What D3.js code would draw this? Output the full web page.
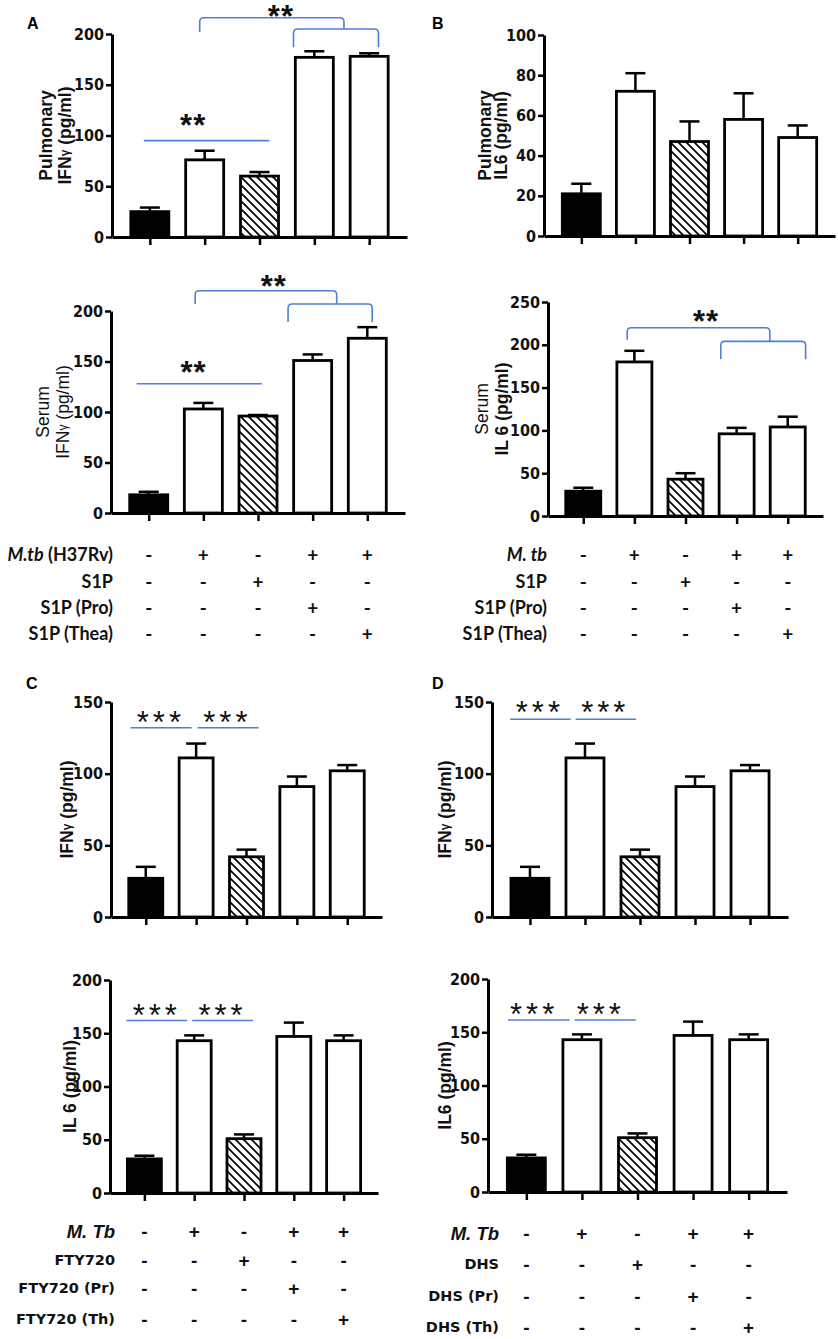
<!DOCTYPE html>
<html>
<head>
<meta charset="utf-8">
<script src="https://cdn.jsdelivr.net/npm/d3@7"></script>
<style>
  body { margin: 0; background: #fff; }
  svg { display: block; }
</style>
</head>
<body>
<script>
// groups: control, infected, drug alone, infected + drug (prophylactic), infected + drug (therapeutic)
var groups = ['ctrl', 'mtb', 'drug', 'pro', 'thea'];
var fills = ['solid', 'open', 'hatch', 'open', 'open'];

// A - S1P
var pulmIfng = [25, 76, 60, 177, 178];
var pulmIfngSem = [4, 9, 4, 6, 3];
var serumIfng = [18, 103, 96, 151, 173];
var serumIfngSem = [3, 6, 1, 6, 11];
// B - S1P
var pulmIl6 = [21, 72, 47, 58, 49];
var pulmIl6Sem = [5, 9, 10, 13, 6];
var serumIl6 = [29, 180, 43, 96, 104];
var serumIl6Sem = [4, 13, 7, 7, 12];
// C - FTY720
var ftyIfng = [27, 111, 42, 91, 102];
var ftyIfngSem = [8, 10, 5, 7, 4];
var ftyIl6 = [32, 143, 51, 147, 143];
var ftyIl6Sem = [3, 5, 4, 13, 5];
// D - DHS
var dhsIfng = [27, 111, 42, 91, 102];
var dhsIfngSem = [8, 10, 5, 7, 4];
var dhsIl6 = [32, 143, 51, 147, 143];
var dhsIl6Sem = [3, 5, 4, 13, 5];

var ticks200 = [0, 50, 100, 150, 200];
var ticks100 = [0, 20, 40, 60, 80, 100];
var ticks250 = [0, 50, 100, 150, 200, 250];
var ticks150 = [0, 50, 100, 150];

// treatment table under each panel
var signs = [
  ['-', '+', '-', '+', '+'],
  ['-', '-', '+', '-', '-'],
  ['-', '-', '-', '+', '-'],
  ['-', '-', '-', '-', '+']
];
var rowsA = ['M.tb (H37Rv)', 'S1P', 'S1P (Pro)', 'S1P (Thea)'];
var rowsB = ['M. tb', 'S1P', 'S1P (Pro)', 'S1P (Thea)'];
var rowsC = ['M. Tb', 'FTY720', 'FTY720 (Pr)', 'FTY720 (Th)'];
var rowsD = ['M. Tb', 'DHS', 'DHS (Pr)', 'DHS (Th)'];

var BLUE = '#4f7fd6';
var TICKFONT = '"Liberation Sans Narrow", "DejaVu Sans Condensed", sans-serif';
var SANS = '"Liberation Sans", Arial, sans-serif';

var svg = d3.select('body').append('svg')
  .attr('width', 838)
  .attr('height', 1339);

var defs = svg.append('defs');
var pat = defs.append('pattern')
  .attr('id', 'hatch')
  .attr('patternUnits', 'userSpaceOnUse')
  .attr('width', 8)
  .attr('height', 8);
pat.append('rect').attr('width', 8).attr('height', 8).attr('fill', '#fff');
pat.append('path')
  .attr('d', 'M-2,-2L10,10M-2,6L2,10M6,-2L10,2')
  .attr('stroke', '#000')
  .attr('stroke-width', 1.7);

function fillFor(f) {
  if (f == 'solid') return '#000';
  if (f == 'hatch') return 'url(#hatch)';
  return '#fff';
}

function bracketPath(xa, xb, yl, ya, yb) {
  var r = 4;
  return 'M' + xa + ',' + ya + 'L' + xa + ',' + (yl + r) +
    'Q' + xa + ',' + yl + ' ' + (xa + r) + ',' + yl +
    'L' + (xb - r) + ',' + yl +
    'Q' + xb + ',' + yl + ' ' + xb + ',' + (yl + r) +
    'L' + xb + ',' + yb;
}

function panel(o) {
  var g = svg.append('g');
  var x = d3.scalePoint().domain(groups).range([o.x0, o.x1]).padding(0.69);
  var step = x.step();
  var xi = function(i) { return x(groups[0]) + i * step; };
  var y = d3.scaleLinear().domain([0, o.max]).range([o.y0, o.y1]);
  var bw = o.bw;

  // bars
  g.selectAll('rect.bar').data(o.values).enter().append('rect')
    .attr('class', 'bar')
    .attr('x', function(d, i) { return x(groups[i]) - bw / 2; })
    .attr('y', function(d) { return y(d); })
    .attr('width', bw)
    .attr('height', function(d) { return o.y0 - y(d); })
    .attr('fill', function(d, i) { return fillFor(fills[i]); })
    .attr('stroke', '#000')
    .attr('stroke-width', 2.8);

  // error bars (upper only)
  var eb = g.selectAll('g.err').data(o.values).enter().append('g').attr('class', 'err');
  eb.append('line')
    .attr('x1', function(d, i) { return x(groups[i]); })
    .attr('x2', function(d, i) { return x(groups[i]); })
    .attr('y1', function(d) { return y(d); })
    .attr('y2', function(d, i) { return y(d + o.sem[i]); });
  eb.append('line')
    .attr('x1', function(d, i) { return x(groups[i]) - 10; })
    .attr('x2', function(d, i) { return x(groups[i]) + 10; })
    .attr('y1', function(d, i) { return y(d + o.sem[i]); })
    .attr('y2', function(d, i) { return y(d + o.sem[i]); });
  eb.selectAll('line').attr('stroke', '#000').attr('stroke-width', 2.5);

  // axes
  var ya = g.append('g')
    .attr('transform', 'translate(' + o.x0 + ',0)')
    .call(d3.axisLeft(y).tickValues(o.ticks).tickSize(6).tickSizeOuter(0).tickPadding(2));
  var xa = g.append('g')
    .attr('transform', 'translate(0,' + o.y0 + ')')
    .call(d3.axisBottom(x).tickSize(8).tickSizeOuter(0).tickFormat(''));
  g.selectAll('.domain').attr('stroke', '#000').attr('stroke-width', 3);
  g.selectAll('.tick line').attr('stroke', '#000').attr('stroke-width', 2.5);
  ya.selectAll('text')
    .attr('fill', '#111')
    .style('font-family', TICKFONT)
    .style('font-weight', 'bold')
    .style('font-size', '16px');

  // y label
  o.ylab.forEach(function(l) {
    var t = g.append('text')
      .attr('transform', 'translate(' + l[1] + ',' + ((o.y0 + o.y1) / 2) + ') rotate(-90)')
      .attr('text-anchor', 'middle')
      .attr('dominant-baseline', 'central')
      .style('font-family', SANS)
      .style('font-weight', l[2] || 'bold')
      .style('font-size', '17.5px')
      .attr('fill', '#111');
    var parts = l[0].split('γ');
    t.append('tspan').text(parts[0]);
    if (parts.length > 1) {
      t.append('tspan').style('font-size', '12px').text('γ');
      t.append('tspan').text(parts[1]);
    }
  });

  // significance lines and brackets
  (o.lines || []).forEach(function(s) {
    g.append('line')
      .attr('x1', xi(s[0])).attr('x2', xi(s[1]))
      .attr('y1', y(s[2])).attr('y2', y(s[2]))
      .attr('stroke', BLUE).attr('stroke-width', 1.6);
  });
  (o.brackets || []).forEach(function(b) {
    g.append('path')
      .attr('d', bracketPath(xi(b[0]), xi(b[1]), y(b[2]), y(b[3]), y(b[4])))
      .attr('fill', 'none')
      .attr('stroke', BLUE).attr('stroke-width', 1.6);
  });
  (o.stars || []).forEach(function(s) {
    g.append('text')
      .attr('x', xi(s[0]))
      .attr('y', y(s[1]) + o.starSize * 0.58)
      .attr('text-anchor', 'middle')
      .style('font-family', SANS)
      .style('font-weight', o.starWeight)
      .style('font-size', o.starSize + 'px')
      .style('letter-spacing', o.starGap + 'px')
      .attr('fill', '#111')
      .text(s[2]);
  });

  // panel letter
  if (o.letter) {
    g.append('text')
      .attr('x', o.letter[1]).attr('y', o.letter[2])
      .attr('dominant-baseline', 'central')
      .style('font-family', SANS)
      .style('font-weight', 'bold')
      .style('font-size', '16px')
      .text(o.letter[0]);
  }

  // treatment table
  if (o.rows) {
    o.rows.forEach(function(label, r) {
      var ry = o.rowY[r];
      var t = g.append('text')
        .attr('x', o.labelX).attr('y', ry)
        .attr('text-anchor', 'end')
        .attr('dominant-baseline', 'central')
        .style('font-family', r == 0 ? o.headFont : o.rowFont)
        .style('font-weight', 'bold')
        .style('font-size', (r == 0 ? o.headSize : o.rowSize) + 'px')
        .attr('fill', '#111');
      var m = label.match(/^(M\.\s?[tT]b)(.*)$/);
      if (m) {
        t.append('tspan').style('font-style', 'italic').text(m[1]);
        if (m[2]) t.append('tspan').style('font-family', o.rowFont).style('font-size', o.rowSize + 'px').text(m[2]);
      } else {
        t.text(label);
      }
      g.selectAll(null).data(signs[r]).enter().append('text')
        .attr('x', function(d, i) { return x(groups[i]); })
        .attr('y', ry)
        .attr('text-anchor', 'middle')
        .attr('dominant-baseline', 'central')
        .style('font-family', o.signFont)
        .style('font-weight', 'bold')
        .style('font-size', o.signSize + 'px')
        .attr('fill', '#111')
        .text(function(d) { return d; });
    });
  }
}

var tableAB = {
  headFont: 'Lato, sans-serif', rowFont: 'Lato, sans-serif', headSize: 18, rowSize: 18,
  signFont: 'Lato, sans-serif', signSize: 19
};
var tableCD = {
  headFont: SANS, rowFont: '"DejaVu Sans", sans-serif', headSize: 18.5, rowSize: 14.5,
  signFont: SANS, signSize: 19
};

// A top: pulmonary IFN-gamma
panel({
  x0: 112, x1: 407, y0: 237, y1: 34, max: 200, ticks: ticks200, bw: 38,
  values: pulmIfng, sem: pulmIfngSem,
  ylab: [['Pulmonary', 46], ['IFNγ (pg/ml)', 65]],
  letter: ['A', 27, 23],
  lines: [[-0.11, 2.18, 95]],
  brackets: [[0.91, 3.54, 216, 202, 205], [2.62, 4.17, 205, 187, 187]],
  stars: [[0.79, 117, '**'], [2.39, 225, '**']],
  starSize: 31, starWeight: 'bold', starGap: 1
});
// A bottom: serum IFN-gamma
panel(Object.assign({
  x0: 111, x1: 405, y0: 513, y1: 311, max: 200, ticks: ticks200, bw: 38,
  values: serumIfng, sem: serumIfngSem,
  ylab: [['Serum', 43, 'normal'], ['IFNγ (pg/ml)', 63, 'normal']],
  lines: [[-0.22, 2.07, 128]],
  brackets: [[0.85, 3.44, 220, 207, 207], [2.55, 4.09, 207, 189, 189]],
  stars: [[0.82, 147, '**'], [2.29, 232, '**']],
  starSize: 31, starWeight: 'bold', starGap: 1,
  rows: rowsA, rowY: [554, 581, 607, 633], labelX: 113
}, tableAB));
// B top: pulmonary IL6
panel({
  x0: 544, x1: 835, y0: 236, y1: 35, max: 100, ticks: ticks100, bw: 38,
  values: pulmIl6, sem: pulmIl6Sem,
  ylab: [['Pulmonary', 485], ['IL6 (pg/ml)', 501]],
  letter: ['B', 432, 23]
});
// B bottom: serum IL6
panel(Object.assign({
  x0: 548, x1: 823, y0: 516, y1: 302, max: 250, ticks: ticks250, bw: 35,
  values: serumIl6, sem: serumIl6Sem,
  ylab: [['Serum', 482, 'normal'], ['IL 6 (pg/ml)', 502]],
  brackets: [[0.86, 3.65, 220, 206, 204], [2.69, 4.35, 204, 183, 183]],
  stars: [[2.4, 236, '**']],
  starSize: 31, starWeight: 'bold', starGap: 1,
  rows: rowsB, rowY: [554, 581, 607, 633], labelX: 547
}, tableAB));
// C top: IFN-gamma, FTY720
panel({
  x0: 111, x1: 382, y0: 917, y1: 702, max: 150, ticks: ticks150, bw: 34,
  values: ftyIfng, sem: ftyIfngSem,
  ylab: [['IFNγ (pg/ml)', 67]],
  letter: ['C', 26, 683],
  lines: [[-0.3, 0.91, 132], [1.03, 2.24, 132]],
  stars: [[0.3, 141, '***'], [1.62, 141, '***']],
  starSize: 31, starWeight: 'normal', starGap: 4
});
// C bottom: IL6, FTY720
panel(Object.assign({
  x0: 110, x1: 378, y0: 1193, y1: 980, max: 200, ticks: ticks200, bw: 34,
  values: ftyIl6, sem: ftyIl6Sem,
  ylab: [['IL 6 (pg/ml)', 70]],
  lines: [[-0.36, 0.86, 162], [0.96, 2.18, 162]],
  stars: [[0.25, 174, '***'], [1.57, 174, '***']],
  starSize: 31, starWeight: 'normal', starGap: 4,
  rows: rowsC, rowY: [1231, 1260, 1288, 1319], labelX: 115
}, tableCD));
// D top: IFN-gamma, DHS
panel({
  x0: 492, x1: 788, y0: 917, y1: 702, max: 150, ticks: ticks150, bw: 38,
  values: dhsIfng, sem: dhsIfngSem,
  ylab: [['IFNγ (pg/ml)', 445]],
  letter: ['D', 432, 683],
  lines: [[-0.36, 0.74, 138], [0.83, 1.93, 138]],
  stars: [[0.18, 148, '***'], [1.37, 148, '***']],
  starSize: 31, starWeight: 'normal', starGap: 4
});
// D bottom: IL6, DHS
panel(Object.assign({
  x0: 488, x1: 787, y0: 1192, y1: 979, max: 200, ticks: ticks200, bw: 38,
  values: dhsIl6, sem: dhsIl6Sem,
  ylab: [['IL6 (pg/ml)', 445]],
  lines: [[-0.33, 0.78, 161.5], [0.87, 1.97, 161.5]],
  stars: [[0.14, 174, '***'], [1.34, 174, '***']],
  starSize: 31, starWeight: 'normal', starGap: 4,
  rows: rowsD, rowY: [1233, 1264, 1296, 1327], labelX: 499
}, tableCD));
</script>
</body>
</html>
